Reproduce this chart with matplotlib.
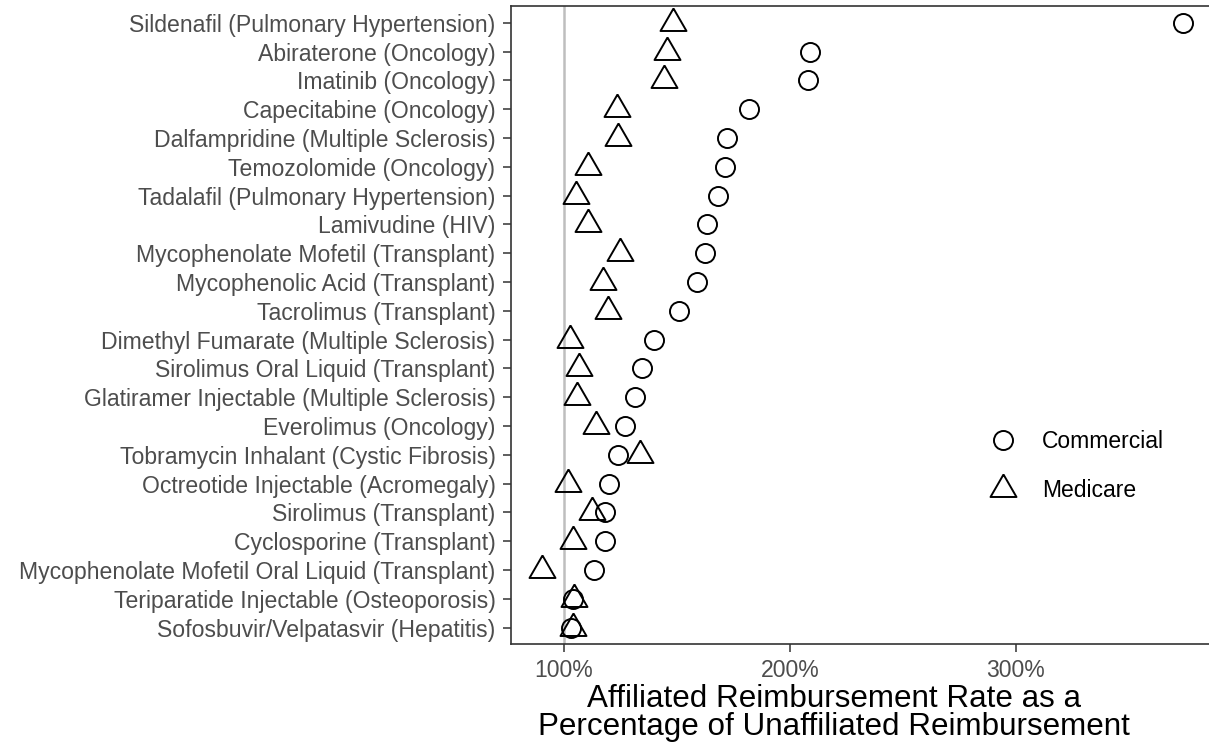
import matplotlib
matplotlib.use("Agg")
import matplotlib.pyplot as plt

plt.rcParams['font.family'] = ['Liberation Sans', 'DejaVu Sans']

drugs = [
    "Sildenafil (Pulmonary Hypertension)",
    "Abiraterone (Oncology)",
    "Imatinib (Oncology)",
    "Capecitabine (Oncology)",
    "Dalfampridine (Multiple Sclerosis)",
    "Temozolomide (Oncology)",
    "Tadalafil (Pulmonary Hypertension)",
    "Lamivudine (HIV)",
    "Mycophenolate Mofetil (Transplant)",
    "Mycophenolic Acid (Transplant)",
    "Tacrolimus (Transplant)",
    "Dimethyl Fumarate (Multiple Sclerosis)",
    "Sirolimus Oral Liquid (Transplant)",
    "Glatiramer Injectable (Multiple Sclerosis)",
    "Everolimus (Oncology)",
    "Tobramycin Inhalant (Cystic Fibrosis)",
    "Octreotide Injectable (Acromegaly)",
    "Sirolimus (Transplant)",
    "Cyclosporine (Transplant)",
    "Mycophenolate Mofetil Oral Liquid (Transplant)",
    "Teriparatide Injectable (Osteoporosis)",
    "Sofosbuvir/Velpatasvir (Hepatitis)",
]

commercial = [373.9, 208.8, 208.1, 182.0, 172.3, 171.1, 168.0, 163.3, 162.3, 158.7, 150.7,
              140.0, 134.5, 131.6, 126.8, 123.9, 120.0, 118.1, 118.1, 113.4, 104.1, 103.1]
medicare = [148.1, 145.5, 144.2, 123.3, 124.0, 110.5, 105.3, 110.8, 124.8, 117.1, 119.6,
            102.7, 106.5, 105.8, 114.2, 133.6, 101.6, 112.4, 104.1, 90.1, 104.3, 103.8]

xticks = [100, 200, 300]
xticklabels = ["100%", "200%", "300%"]

W, H = 1209, 746
fig = plt.figure(figsize=(W / 100, H / 100), dpi=100)
left, right, top, bottom = 510.7, 1215, 6, 644
ax = fig.add_axes([left / W, 1 - bottom / H, (right - left) / W, (bottom - top) / H])

ypos = list(range(len(drugs)))

ax.axvline(100, color="#BEBEBE", lw=1.8, zorder=1)

# equilateral triangle, centroid at the data point
tri = [(0, 1.155), (-1, -0.577), (1, -0.577), (0, 1.155)]

ax.plot(commercial, ypos, ls="none", marker="o", ms=13.7, mfc="none", mec="black",
        mew=1.4, label="Commercial", zorder=3)
ax.plot(medicare, ypos, ls="none", marker=tri, ms=21.6, mfc="none", mec="black",
        mew=1.4, label="Medicare", zorder=3)

ax.set_xlim(76.4, 388.1)
ax.set_ylim(21.57, -0.58)
ax.set_yticks(ypos)
ax.set_yticklabels(drugs)
ax.set_xticks(xticks)
ax.set_xticklabels(xticklabels)

ax.tick_params(axis="both", labelsize=16.6, labelcolor="#4D4D4D", color="#333333",
               length=6, width=1.1, pad=5)
for s in ax.spines.values():
    s.set_color("#333333")
    s.set_linewidth(1.2)

fig.text(834 / W, 1 - 713 / H,
         "Affiliated Reimbursement Rate as a\nPercentage of Unaffiliated Reimbursement",
         ha="center", va="center", fontsize=22.6, linespacing=0.92, color="black")

ax.legend(loc="center left", bbox_to_anchor=(966 / W, 1 - 466 / H),
          bbox_transform=fig.transFigure, frameon=False, fontsize=16.5,
          handlelength=1.4, handletextpad=1.0, labelspacing=1.13)

fig.savefig("out.png", dpi=100)
